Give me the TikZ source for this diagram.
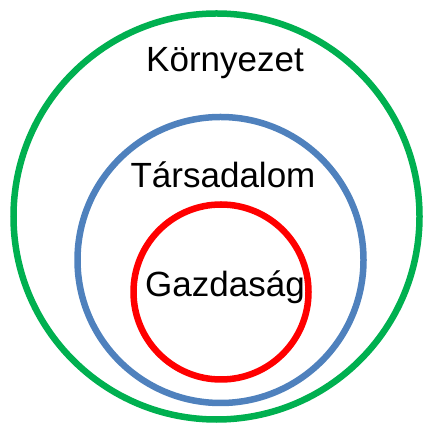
\documentclass[tikz,border=0pt]{standalone}
\usepackage{fontspec}
\setmainfont{Liberation Sans}
\definecolor{kgreen}{RGB}{0,176,80}
\definecolor{kblue}{RGB}{79,129,189}
\definecolor{kred}{RGB}{255,0,0}
\tikzset{
	ring/.style={line width=6.5pt},
	label/.style={anchor=base, inner sep=0pt, font=\fontsize{35}{42}\selectfont}
}
\begin{document}
\begin{tikzpicture}[x=1pt,y=1pt]
			\useasboundingbox (0,0) rectangle (425,427);
			\coordinate (env) at (216.5,210.5);
			\coordinate (soc) at (220.5,167);
			\coordinate (eco) at (221,135);
			\draw[ring, kgreen] (env) circle (203);
			\draw[ring, kblue] (soc) circle (143);
			\draw[ring, kred] (eco) circle (87.5);
			\node[label] (kornyezet) at (225,355) {Környezet};
			\node[label] (tarsadalom) at (223,239) {Társadalom};
			\node[label] (gazdasag) at (225,130) {Gazdaság};
		\end{tikzpicture}
\end{document}
